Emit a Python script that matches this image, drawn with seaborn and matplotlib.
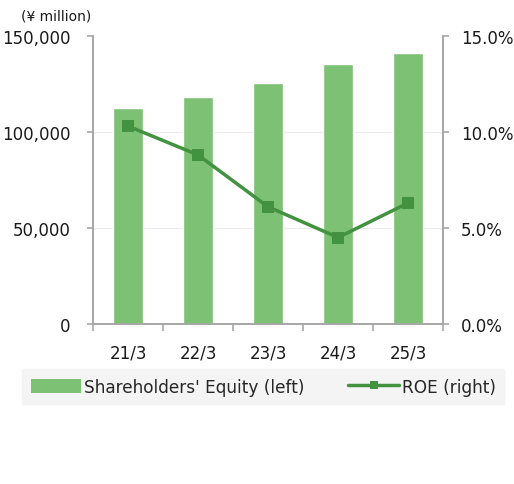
import matplotlib
matplotlib.use("Agg")
import matplotlib.pyplot as plt
import seaborn as sns
import pandas as pd
from matplotlib.ticker import FuncFormatter
from matplotlib.lines import Line2D
from matplotlib.patches import Patch

# data
periods = ["21/3", "22/3", "23/3", "24/3", "25/3"]
equity = [112500, 118200, 125400, 135300, 141000]   # ¥ million
roe = [10.3, 8.8, 6.1, 4.5, 6.3]                    # %

bar_color = "#7dc174"
line_color = "#43923f"
grid_color = "#ececec"
spine_color = "#a6a6a6"

sns.set_style("white")
plt.rcParams["font.family"] = ["DejaVu Sans"]

df = pd.DataFrame({"period": periods, "equity": equity, "roe": roe})

fig = plt.figure(figsize=(5.14, 4.85), dpi=100)
ax = fig.add_axes([0.181, 0.330, 0.681, 0.594])

sns.barplot(data=df, x="period", y="equity", color=bar_color, width=0.43,
            saturation=1, ax=ax, zorder=2)
ax.set_ylim(0, 150000)
ax.set_xlim(-0.5, 4.5)
ax.set_yticks([0, 50000, 100000, 150000])
ax.yaxis.set_major_formatter(FuncFormatter(lambda v, p: f"{v:,.0f}"))
for v in (50000, 100000):
    ax.axhline(v, color=grid_color, lw=0.8, zorder=0)
ax.set_xlabel("")
ax.set_ylabel("")

ax2 = ax.twinx()
sns.lineplot(x=range(len(periods)), y=roe, ax=ax2, color=line_color, lw=2.5,
             marker="s", markersize=8, markeredgewidth=0, zorder=3)
ax2.set_ylim(0, 15)
ax2.set_yticks([0, 5, 10, 15])
ax2.yaxis.set_major_formatter(FuncFormatter(lambda v, p: f"{v:.1f}%"))

for a in (ax, ax2):
    for s in ("left", "right", "bottom"):
        a.spines[s].set_color(spine_color)
        a.spines[s].set_linewidth(1.2)
    a.spines["top"].set_visible(False)
ax.tick_params(axis="y", left=True, length=4, width=1.2, color=spine_color,
               labelsize=12, labelcolor="#1a1a1a", pad=12)
ax2.tick_params(axis="y", right=True, length=4, width=1.2, color=spine_color,
                labelsize=12, labelcolor="#1a1a1a", pad=9)

# x ticks: labels at centres, tick marks at category boundaries
ax.set_xticks(range(len(periods)))
ax.set_xticklabels(periods)
ax.tick_params(axis="x", which="major", length=0, labelsize=12, pad=14, colors="#1a1a1a")
ax.set_xticks([i - 0.5 for i in range(len(periods) + 1)], minor=True)
ax.tick_params(axis="x", which="minor", bottom=True, length=5, color=spine_color, width=1.2)

fig.text(0.04, 0.967, "(¥ million)", fontsize=10, color="#1a1a1a", va="center")

handles = [Patch(facecolor=bar_color, edgecolor="none"),
           Line2D([0], [0], color=line_color, lw=2.5, marker="s", markersize=6,
                  markeredgewidth=0)]
leg = fig.legend(handles, ["Shareholders' Equity (left)", "ROE (right)"],
                 loc="center", bbox_to_anchor=(0.512, 0.201), ncol=2,
                 fontsize=12.2, frameon=True, fancybox=False, handlelength=3.0,
                 handleheight=0.9, handletextpad=0.15, columnspacing=2.6,
                 borderpad=0.5, borderaxespad=0)
leg.get_frame().set_facecolor("#f2f2f2")
leg.get_frame().set_edgecolor("#f2f2f2")

fig.savefig("out.png", dpi=100)
